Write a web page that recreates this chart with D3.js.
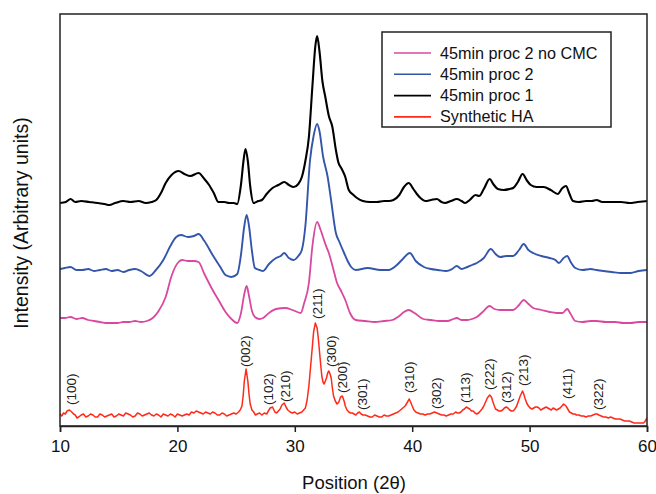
<!DOCTYPE html>
<html>
<head>
<meta charset="utf-8">
<script src="https://cdn.jsdelivr.net/npm/d3@7"></script>
<style>
  html, body { margin: 0; padding: 0; background: #fff; }
  svg { display: block; }
</style>
</head>
<body>
<svg id="chart" width="656" height="494"></svg>
<script>
// ---------------- DATA ----------------
const seriesNames = ["45min proc 2 no CMC", "45min proc 2", "45min proc 1", "Synthetic HA"];
const xTicks = [10, 20, 30, 40, 50, 60];

// [2theta, intensity (arbitrary, offset-stacked)]
const proc1 = [[10.0,223],[10.5,224],[10.9,227],[11.3,224],[11.8,225],[12.5,224],[13.2,223],[13.8,222],[14.2,221],[14.7,223],[15.4,225],[16.0,224],[16.7,225],[17.3,223],[17.8,224],[18.2,226],[18.6,233],[19.0,243],[19.5,251],[20.1,255],[20.6,252],[21.1,250],[21.8,253],[22.3,247],[22.7,241],[23.1,233],[23.5,224],[24.0,224],[24.4,223],[24.8,223],[25.1,222],[25.4,240],[25.65,267],[25.8,277],[26.0,265],[26.2,240],[26.5,223],[26.9,225],[27.2,226],[27.6,232],[28.1,238],[28.6,241],[29.1,244],[29.5,241],[29.9,239],[30.3,242],[30.6,249],[30.9,265],[31.2,289],[31.5,340],[31.75,380],[31.9,390],[32.1,375],[32.35,345],[32.6,329],[32.9,310],[33.2,299],[33.5,276],[33.7,264],[34.0,257],[34.3,249],[34.6,236],[35.0,231],[35.3,228],[35.8,225],[36.4,224],[37.0,224],[37.6,225],[38.0,225],[38.4,226],[38.9,231],[39.3,239],[39.7,243],[40.1,237],[40.4,232],[40.7,228],[41.1,225],[41.6,226],[42.1,227],[42.5,224],[42.8,223],[43.3,225],[43.8,227],[44.2,225],[44.5,223],[44.9,226],[45.4,231],[45.7,230],[46.1,237],[46.6,247],[46.9,242],[47.3,237],[47.8,236],[48.3,237],[48.6,238],[49.0,244],[49.4,252],[49.8,245],[50.1,241],[50.6,239],[51.2,239],[51.8,236],[52.4,232],[52.8,238],[53.1,240],[53.4,232],[53.7,225],[54.2,224],[54.8,225],[55.3,225],[55.7,226],[56.2,224],[57.1,224],[57.8,224],[58.5,223],[59.2,224],[60.0,225]];

const proc2 = [[10.0,157],[10.4,158],[10.9,159],[11.4,156],[11.9,156],[12.4,157],[12.9,155],[13.4,156],[13.9,157],[14.4,155],[14.9,156],[15.4,154],[15.9,156],[16.4,157],[16.9,155],[17.6,150],[18.1,155],[18.8,166],[19.4,180],[19.9,189],[20.3,191],[20.9,189],[21.4,190],[21.8,192],[22.3,185],[23.0,171],[23.6,160],[24.1,151],[24.6,149],[25.1,152],[25.4,170],[25.7,200],[25.9,211],[26.1,200],[26.35,175],[26.6,158],[27.0,156],[27.3,155],[27.8,162],[28.4,168],[28.8,170],[29.1,173],[29.5,168],[29.9,166],[30.3,170],[30.6,176],[30.9,200],[31.3,266],[31.6,290],[31.9,302],[32.1,295],[32.4,270],[32.8,249],[33.1,225],[33.5,193],[33.8,184],[34.2,173],[34.5,165],[34.8,159],[35.2,156],[36.2,158],[37.3,156],[38.0,156],[38.6,160],[39.2,167],[39.8,173],[40.3,165],[41.0,159],[41.6,157],[42.2,156],[42.9,155],[43.4,157],[43.8,160],[44.2,157],[44.7,159],[45.1,161],[45.5,163],[46.1,168],[46.7,177],[47.1,172],[47.5,169],[48.0,170],[48.6,170],[49.1,176],[49.5,182],[49.9,176],[50.3,173],[51.0,170],[51.7,168],[52.2,166],[52.5,163],[52.9,168],[53.2,170],[53.5,164],[53.9,158],[54.5,156],[55.2,157],[55.7,156],[56.3,155],[57.0,154],[57.8,153],[58.6,153],[59.3,155],[60.0,156]];

const proc2NoCMC = [[10.0,108],[10.4,108],[10.9,109],[11.4,107],[11.9,108],[12.4,106],[12.9,105],[13.4,104],[13.9,103],[14.4,103],[14.9,103],[15.4,104],[15.9,104],[16.4,105],[16.9,104],[17.4,105],[17.9,108],[18.4,115],[19.0,129],[19.5,150],[20.1,164],[20.4,166],[20.9,165],[21.4,165],[21.8,164],[22.3,152],[23.0,136],[23.6,124],[24.1,114],[24.6,107],[25.1,103],[25.4,112],[25.7,132],[25.9,140],[26.1,130],[26.35,115],[26.6,109],[27.0,107],[27.3,108],[27.8,113],[28.4,117],[29.2,118],[29.8,116],[30.5,113],[30.8,123],[31.2,143],[31.5,180],[31.9,204],[32.2,196],[32.6,182],[32.9,173],[33.3,156],[33.6,143],[33.9,136],[34.3,126],[34.7,113],[35.2,106],[36.0,105],[36.8,104],[37.6,105],[38.3,106],[38.9,110],[39.3,114],[39.7,116],[40.2,113],[40.95,107],[41.6,106],[42.3,105],[43.0,105],[43.5,107],[43.8,108],[44.2,106],[44.7,106],[45.1,107],[45.5,109],[46.0,114],[46.6,120],[47.0,117],[47.5,116],[48.0,116],[48.6,116],[49.1,121],[49.5,126],[49.9,122],[50.3,118],[51.0,116],[51.7,114],[52.3,113],[52.8,113],[53.2,117],[53.5,112],[53.9,105],[54.5,104],[55.2,105],[55.7,105],[56.5,104],[57.3,104],[58.0,103],[58.6,103],[59.3,104],[60.0,104]];

const synthHA = [[10.0,12],[10.15,10],[10.3,13],[10.45,12],[10.6,15],[10.8,16],[11.0,14],[11.15,12],[11.3,11],[11.45,8],[11.6,9],[11.8,11],[12.0,12],[12.2,9],[12.4,10],[12.6,12],[12.8,11],[13.0,9],[13.2,9],[13.4,12],[13.6,11],[13.8,9],[14.0,10],[14.2,11],[14.4,12],[14.6,9],[14.8,10],[15.0,12],[15.2,11],[15.4,10],[15.6,13],[15.8,12],[16.0,11],[16.2,9],[16.4,10],[16.6,13],[16.8,12],[17.0,10],[17.2,11],[17.4,12],[17.6,13],[17.8,11],[18.0,10],[18.2,12],[18.4,11],[18.6,9],[18.8,12],[19.0,11],[19.2,10],[19.4,12],[19.6,11],[19.8,9],[20.0,12],[20.2,11],[20.4,10],[20.6,11],[20.8,12],[21.0,11],[21.2,14],[21.4,13],[21.6,15],[21.8,14],[22.0,13],[22.2,12],[22.4,14],[22.6,13],[22.8,12],[23.0,14],[23.2,13],[23.4,11],[23.6,11],[23.8,13],[24.0,12],[24.2,10],[24.4,11],[24.6,12],[24.8,13],[25.0,12],[25.2,14],[25.35,16],[25.5,20],[25.6,30],[25.7,45],[25.85,57],[26.0,45],[26.1,32],[26.2,22],[26.35,16],[26.5,14],[26.65,11],[26.8,12],[27.0,13],[27.2,11],[27.4,13],[27.6,12],[27.75,15],[27.9,18],[28.1,19],[28.3,14],[28.45,13],[28.6,15],[28.75,17],[28.9,21],[29.1,23],[29.25,19],[29.4,16],[29.6,14],[29.8,13],[30.0,14],[30.2,12],[30.4,13],[30.6,14],[30.75,16],[30.9,18],[31.05,26],[31.2,40],[31.35,60],[31.5,80],[31.6,94],[31.75,103],[31.9,98],[32.0,88],[32.1,75],[32.2,62],[32.3,50],[32.4,44],[32.5,42],[32.6,45],[32.7,48],[32.8,53],[32.9,55],[33.0,52],[33.1,48],[33.2,38],[33.3,30],[33.45,25],[33.6,22],[33.75,24],[33.9,29],[34.05,30],[34.2,25],[34.3,20],[34.45,16],[34.6,14],[34.75,13],[34.9,13],[35.05,12],[35.2,11],[35.35,13],[35.5,14],[35.65,12],[35.8,11],[36.0,11],[36.2,10],[36.4,9],[36.6,9],[36.8,11],[37.0,10],[37.2,9],[37.4,9],[37.6,11],[37.8,10],[38.0,10],[38.2,11],[38.4,12],[38.6,13],[38.8,14],[39.0,16],[39.2,18],[39.4,20],[39.6,24],[39.75,27],[39.9,23],[40.0,20],[40.15,16],[40.3,14],[40.5,13],[40.7,12],[40.9,12],[41.1,11],[41.3,12],[41.5,12],[41.7,13],[41.9,14],[42.1,13],[42.3,12],[42.5,11],[42.7,11],[42.9,10],[43.1,11],[43.3,12],[43.5,12],[43.7,14],[43.85,13],[44.0,13],[44.15,14],[44.3,16],[44.45,17],[44.6,19],[44.75,18],[44.9,17],[45.05,15],[45.2,15],[45.35,13],[45.5,12],[45.65,13],[45.8,15],[45.95,17],[46.1,20],[46.25,24],[46.4,28],[46.6,31],[46.75,29],[46.85,25],[47.0,20],[47.1,17],[47.25,16],[47.4,15],[47.55,15],[47.7,16],[47.85,18],[48.0,19],[48.15,18],[48.3,16],[48.45,15],[48.6,15],[48.75,17],[48.9,20],[49.05,25],[49.2,30],[49.4,35],[49.5,32],[49.6,28],[49.75,23],[49.9,20],[50.05,18],[50.2,17],[50.35,18],[50.5,19],[50.65,19],[50.8,18],[50.95,16],[51.1,17],[51.25,18],[51.4,19],[51.55,18],[51.7,17],[51.85,16],[52.0,18],[52.15,17],[52.3,16],[52.45,17],[52.6,18],[52.75,20],[52.9,22],[53.0,21],[53.1,20],[53.25,17],[53.4,14],[53.55,13],[53.7,12],[53.85,12],[54.0,11],[54.2,11],[54.4,10],[54.6,10],[54.8,9],[55.0,10],[55.2,10],[55.4,11],[55.6,12],[55.75,12],[55.9,11],[56.1,10],[56.3,9],[56.5,9],[56.7,8],[56.9,9],[57.1,8],[57.3,7],[57.5,7],[57.7,7],[57.9,6],[58.1,5],[58.3,5],[58.5,5],[58.7,4],[58.9,3],[59.1,3],[59.3,3],[59.5,3],[59.7,3],[59.8,4],[59.9,6],[60.0,8]];

// Miller index labels: text, 2theta, intensity at label base
const peakLabels = ["(100)","(002)","(102)","(210)","(211)","(300)","(200)","(301)","(310)","(302)","(113)","(222)","(312)","(213)","(411)","(322)"];
const peakLabelX = [10.94,25.82,27.77,29.22,31.94,33.13,34.06,35.77,39.76,42.06,44.52,46.56,48.01,49.46,53.2,55.83];
const peakLabelY = [21,59,21,24,107,59,33,16,33,17,23,36,23,40,27,16];

// ---------------- CHART ----------------
const svg = d3.select("#chart");
const x = d3.scaleLinear().domain([10, 60]).range([60, 647]);
const y = d3.scaleLinear().domain([0, 412]).range([426, 14]);

const colors = { "45min proc 2 no CMC": "#d9489f", "45min proc 2": "#3355aa", "45min proc 1": "#000000", "Synthetic HA": "#ff2a1a" };
const widths = { "45min proc 2 no CMC": 1.8, "45min proc 2": 1.9, "45min proc 1": 2.1, "Synthetic HA": 1.5 };
const curves = { "45min proc 2 no CMC": d3.curveMonotoneX, "45min proc 2": d3.curveMonotoneX, "45min proc 1": d3.curveMonotoneX, "Synthetic HA": d3.curveLinear };
const dataBy = { "45min proc 2 no CMC": proc2NoCMC, "45min proc 2": proc2, "45min proc 1": proc1, "Synthetic HA": synthHA };

svg.append("defs").append("clipPath").attr("id", "clip")
  .append("rect").attr("x", 60).attr("y", 14).attr("width", 587).attr("height", 412);

const plot = svg.append("g").attr("clip-path", "url(#clip)");
["Synthetic HA", "45min proc 2 no CMC", "45min proc 2", "45min proc 1"].forEach(name => {
  const line = d3.line().x(d => x(d[0])).y(d => y(d[1])).curve(curves[name]);
  plot.append("path")
    .datum(dataBy[name])
    .attr("fill", "none")
    .attr("stroke", colors[name])
    .attr("stroke-width", widths[name])
    .attr("stroke-linejoin", "round")
    .attr("d", line);
});

// peak labels
svg.append("g").selectAll("text")
  .data(peakLabels.map((t, i) => ({ t, px: peakLabelX[i], py: peakLabelY[i] })))
  .join("text")
  .attr("transform", d => `translate(${x(d.px) + 4.5},${y(d.py)}) rotate(-90)`)
  .attr("text-anchor", "start")
  .attr("font-family", "Liberation Sans, Arial, sans-serif")
  .attr("font-size", 13.5)
  .attr("fill", "#222")
  .text(d => d.t);

// frame
svg.append("rect").attr("x", 60).attr("y", 14).attr("width", 587).attr("height", 412)
  .attr("fill", "none").attr("stroke", "#222").attr("stroke-width", 1.5);

// x axis
const xAxis = svg.append("g").attr("transform", "translate(0,426)")
  .call(d3.axisBottom(x).tickValues(xTicks).tickSize(6).tickPadding(8).tickFormat(d3.format("d")));
xAxis.select(".domain").attr("stroke", "#222").attr("stroke-width", 1.5);
xAxis.selectAll(".tick line").attr("stroke", "#222").attr("stroke-width", 1.5);
xAxis.selectAll(".tick text").attr("font-family", "Liberation Sans, Arial, sans-serif").attr("font-size", 17).attr("fill", "#111");

// axis titles
svg.append("text").attr("x", 354).attr("y", 489).attr("text-anchor", "middle")
  .attr("font-family", "Liberation Sans, Arial, sans-serif").attr("font-size", 18.5).attr("fill", "#111")
  .text("Position (2θ)");
svg.append("text").attr("transform", "translate(28,223) rotate(-90)").attr("text-anchor", "middle")
  .attr("font-family", "Liberation Sans, Arial, sans-serif").attr("font-size", 19.5).attr("fill", "#111")
  .text("Intensity (Arbitrary units)");

// legend
const lg = svg.append("g");
lg.append("rect").attr("x", 382).attr("y", 32).attr("width", 229).attr("height", 95)
  .attr("fill", "#fff").attr("stroke", "#222").attr("stroke-width", 1.5);
seriesNames.forEach((name, i) => {
  const yy = 53 + i * 21.3;
  lg.append("line").attr("x1", 394).attr("x2", 431).attr("y1", yy).attr("y2", yy)
    .attr("stroke", colors[name]).attr("stroke-width", 1.6);
  lg.append("text").attr("x", 440).attr("y", yy + 5.5)
    .attr("font-family", "Liberation Sans, Arial, sans-serif").attr("font-size", 16.2).attr("fill", "#111")
    .text(name);
});
</script>
</body>
</html>
